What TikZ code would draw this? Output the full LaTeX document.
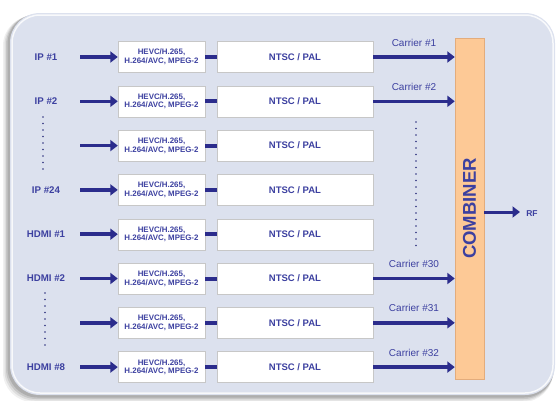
\documentclass[tikz,border=0pt]{standalone}
\usepackage{fontspec}
\setmainfont{Liberation Sans}
\usetikzlibrary{arrows.meta, calc, shadows}
\definecolor{navy}{HTML}{2B2C8C}
\definecolor{labelblue}{HTML}{3C40A0}
\definecolor{panel}{HTML}{DCE1EE}
\definecolor{combfill}{HTML}{FDC996}
\definecolor{combline}{HTML}{E3AC7C}
\tikzset{
  arr/.style={navy, line width=3.5pt, -{Triangle[length=7.5pt,width=11pt]}},
  link/.style={navy, line width=4pt},
  codec/.style={draw=black!22, fill=white, minimum width=87pt, minimum height=31pt, inner sep=0pt, align=center,
    text=labelblue, font=\bfseries\fontsize{7.9}{8.6}\selectfont},
  vidbox/.style={draw=black!22, fill=white, minimum width=156pt, minimum height=31pt, inner sep=0pt,
    text=labelblue, font=\bfseries\fontsize{9.5}{11}\selectfont},
  srclabel/.style={text=labelblue, font=\bfseries\fontsize{9.7}{11}\selectfont},
  carrier/.style={text=labelblue, inner sep=1pt, font=\fontsize{10}{12}\selectfont},
  dots/.style={labelblue!80!black, line width=1.8pt, line cap=round, dash pattern=on 0pt off 6.5pt}
}
\begin{document}
\begin{tikzpicture}[x=1pt, y=-1pt]
\useasboundingbox (0,0) rectangle (558,400);
% panel with soft shadow
\foreach \s/\o in {7/0.06, 5.5/0.08, 4/0.1, 2.5/0.12}
  \fill[black, opacity=\o, rounded corners=30pt] (10-\s,13+0.4*\s) rectangle (555-0.3*\s,395+\s);
\fill[panel, rounded corners=30pt] (10,13) rectangle (555,395);
\draw[white, line width=1.5pt, opacity=0.8, rounded corners=28pt] (12,15) rectangle (553,393);
% combiner
\node[draw=combline, fill=combfill, minimum width=29pt, minimum height=341pt, inner sep=0pt] (comb) at (469.5,208.5) {};
\node[rotate=90, text=labelblue, font=\bfseries\fontsize{18.5}{20}\selectfont] (combtxt) at (comb.center) {COMBINER};
% channel rows
\foreach \i in {1,...,8}{
  \pgfmathsetmacro\y{57+44.3*(\i-1)}
  \node[codec] (codec\i) at (161.5,\y) {HEVC/H.265,\\H.264/AVC, MPEG-2};
  \node[vidbox] (vid\i) at (295,\y) {NTSC / PAL};
  \coordinate (in\i) at (80,\y);
  \draw[link] (codec\i) -- (vid\i);
  \draw[arr] (in\i) -- (codec\i);
}
\foreach \i/\src in {1/IP \#1, 2/IP \#2, 4/IP \#24, 5/HDMI \#1, 6/HDMI \#2, 8/HDMI \#8}
  \node[srclabel] (src\i) at ($(in\i)+(-34,0)$) {\src};
\foreach \i/\car in {1/1, 2/2, 6/30, 7/31, 8/32}
  \draw[arr] (vid\i.east) -- (vid\i.east -| comb.west) node[midway, above=8pt, carrier] (car\i) {Carrier \#\car};
% output
\coordinate (rf) at (520,212);
\draw[arr, line width=3pt] (rf -| comb.east) -- (rf);
\node[text=labelblue, font=\bfseries\fontsize{8.5}{10}\selectfont] (rflab) at (532,214) {RF};
% dotted gaps
\draw[dots] (43,117) -- (43,174);
\draw[dots] (45,293) -- (45,351);
\draw[dots] (416,122) -- (416,249);
\end{tikzpicture}
\end{document}
